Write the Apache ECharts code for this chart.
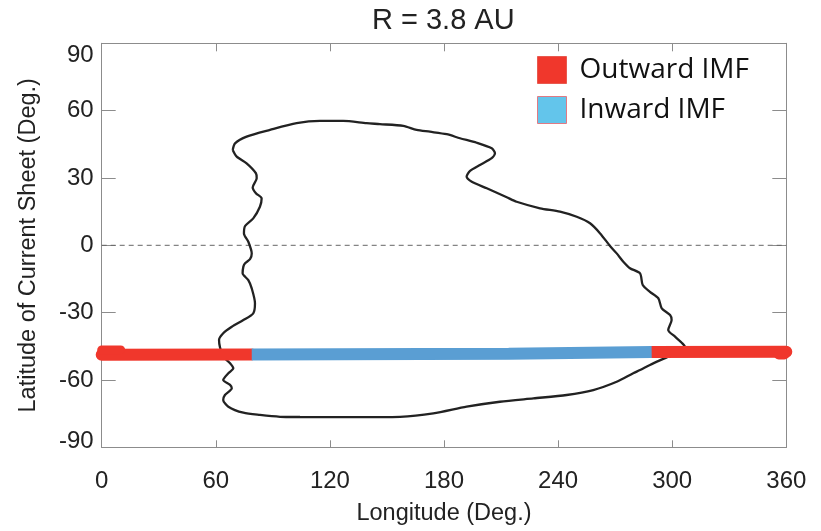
<!DOCTYPE html>
<html>
<head>
<meta charset="utf-8">
<title>R = 3.8 AU</title>
<script src="https://cdn.jsdelivr.net/npm/echarts@6/dist/echarts.min.js"></script>
<style>
  html, body { margin: 0; padding: 0; background: #ffffff; }
  #chart { width: 821px; height: 531px; }
</style>
</head>
<body>
<div id="chart"></div>
<script>
// Tick values for both axes
const lonTicks = [0, 60, 120, 180, 240, 300, 360];
const latTicks = [-90, -60, -30, 0, 30, 60, 90];

// Current-sheet outline at 3.8 AU: [longitude, latitude] in degrees, closed loop
const sheetOutline = [
  [68.9, 42.5], [70.1, 45.4], [76.2, 48.4], [88.5, 51.4], [102.5, 54.4], [114.8, 55.4],
  [127.0, 55.4], [139.3, 54.4], [146.3, 54.0], [158.6, 53.2], [165.6, 51.4], [172.6, 50.6],
  [181.4, 49.5], [188.4, 47.7], [197.2, 45.7], [205.1, 43.2], [206.8, 41.0], [205.1, 38.8],
  [198.9, 35.8], [193.7, 33.2], [191.9, 30.6], [194.6, 28.3], [202.5, 25.4], [213.0, 21.4],
  [218.2, 19.4], [230.5, 16.5], [241.0, 15.0], [249.8, 12.7], [256.8, 9.8], [262.1, 5.3],
  [267.3, -0.3], [270.8, -3.6], [274.3, -7.3], [277.8, -10.2], [283.1, -12.5], [284.5, -17.7],
  [288.3, -20.7], [292.7, -23.6], [294.5, -28.1], [298.9, -31.1], [299.7, -33.3], [297.9, -37.7],
  [301.5, -40.7], [305.0, -43.4], [306.7, -45.2], [304.2, -47.1], [297.9, -49.6], [288.3, -53.3],
  [283.1, -55.6], [279.5, -57.0], [270.8, -60.8], [258.5, -64.5], [244.5, -66.7], [227.0, -68.2],
  [209.4, -69.7], [191.9, -71.9], [174.4, -74.9], [156.9, -76.4], [130.6, -76.6], [104.3, -76.5],
  [93.8, -76.4], [83.2, -75.6], [74.5, -74.6], [66.6, -71.9], [63.9, -68.9], [64.8, -66.7],
  [68.4, -63.7], [67.5, -62.2], [63.9, -60.0], [66.6, -57.0], [69.2, -54.8], [67.5, -52.6],
  [63.9, -49.6], [62.2, -45.4], [61.7, -42.2], [63.9, -39.2], [68.4, -36.3], [74.5, -33.3],
  [79.7, -30.3], [80.6, -25.8], [78.9, -19.2], [77.1, -15.5], [74.1, -12.5], [74.5, -9.5],
  [75.4, -8.0], [78.0, -6.2], [78.9, -3.6], [77.1, 1.6], [74.8, 5.3], [75.4, 8.6],
  [79.7, 12.0], [83.2, 17.2], [84.1, 20.9], [81.1, 23.2], [79.4, 25.8], [81.5, 29.9],
  [81.1, 32.1], [76.2, 36.5], [71.0, 39.5], [68.9, 42.5]
];

// Spacecraft track coloured by IMF polarity: [longitude, latitude]
const outwardWest = [[0, -48.8], [78.9, -48.6]];
const inwardTrack = [[78.9, -48.6], [214, -48.3], [289.2, -47.5]];
const outwardEast = [[289.2, -47.5], [360, -47.4]];
const outwardWestEdge = [[0, -46.6], [10, -46.6]];
const outwardEastEdge = [[356, -48.6], [359, -48.6]];

// Equator reference
const equator = [[0, 0], [360, 0]];

const RED = '#f0372c';
const BLUE = '#5a9ed3';
const AXIS_GRAY = '#8c8c8c';
const TEXT = '#222222';
const FONT = 'Liberation Sans';

const chart = echarts.init(document.getElementById('chart'), null, { renderer: 'canvas' });

const frameAxis = {
  type: 'value',
  axisLine: { show: true, onZero: false, lineStyle: { color: AXIS_GRAY, width: 1 } },
  splitLine: { show: false }
};

chart.setOption({
  animation: false,
  backgroundColor: '#ffffff',
  title: {
    text: 'R = 3.8 AU',
    left: 372,
    top: 6,
    padding: 0,
    textStyle: { fontFamily: FONT, fontSize: 29, fontWeight: 'normal', color: TEXT }
  },
  legend: {
    orient: 'vertical',
    left: 532,
    top: 51,
    icon: 'rect',
    itemWidth: 29,
    itemHeight: 27,
    itemGap: 12,
    selectedMode: false,
    textStyle: { fontFamily: 'Open Sans', fontSize: 28, color: '#111111', padding: [0, 0, 0, 8] },
    data: [
      { name: 'Outward IMF', itemStyle: { color: RED, borderColor: '#e8594f', borderWidth: 1 } },
      { name: 'Inward IMF', itemStyle: { color: '#63c5eb', borderColor: '#e07a84', borderWidth: 1 } }
    ]
  },
  grid: { left: 101.7, right: 34.7, top: 43.3, bottom: 83.7, containLabel: false },
  xAxis: [
    Object.assign({}, frameAxis, {
      position: 'bottom',
      min: lonTicks[0],
      max: lonTicks[lonTicks.length - 1],
      interval: 60,
      name: 'Longitude (Deg.)',
      nameLocation: 'middle',
      nameGap: 54,
      nameTextStyle: { fontFamily: FONT, fontSize: 23.5, color: TEXT },
      axisTick: { show: true, inside: true, length: 7, lineStyle: { color: AXIS_GRAY } },
      axisLabel: { margin: 22, fontFamily: FONT, fontSize: 24, color: TEXT }
    }),
    Object.assign({}, frameAxis, {
      position: 'top',
      min: lonTicks[0],
      max: lonTicks[lonTicks.length - 1],
      interval: 60,
      axisTick: { show: true, inside: true, length: 8, lineStyle: { color: AXIS_GRAY } },
      axisLabel: { show: false }
    })
  ],
  yAxis: [
    Object.assign({}, frameAxis, {
      position: 'left',
      min: latTicks[0],
      max: latTicks[latTicks.length - 1],
      interval: 30,
      name: 'Latitude of Current Sheet (Deg.)',
      nameLocation: 'middle',
      nameGap: 61,
      nameTextStyle: { fontFamily: FONT, fontSize: 23.5, color: TEXT },
      axisTick: { show: true, inside: true, length: 14, lineStyle: { color: AXIS_GRAY } },
      axisLabel: {
        margin: 8,
        fontFamily: FONT,
        fontSize: 24,
        color: TEXT,
        verticalAlignMaxLabel: 'top',
        formatter: function (v) {
          return v === latTicks[0] ? '{low|' + v + '}' : String(v);
        },
        rich: {
          low: { fontFamily: FONT, fontSize: 24, color: TEXT, padding: [0, 0, 11, 0] }
        }
      }
    }),
    Object.assign({}, frameAxis, {
      position: 'right',
      min: latTicks[0],
      max: latTicks[latTicks.length - 1],
      interval: 30,
      axisTick: { show: true, inside: true, length: 14, lineStyle: { color: AXIS_GRAY } },
      axisLabel: { show: false }
    })
  ],
  series: [
    {
      name: 'equator',
      type: 'line',
      data: equator,
      showSymbol: false,
      silent: true,
      lineStyle: { color: '#666666', width: 1, type: [5, 4] },
      z: 1
    },
    {
      name: 'current sheet',
      type: 'line',
      data: sheetOutline,
      showSymbol: false,
      smooth: 0.25,
      silent: true,
      lineStyle: { color: '#222222', width: 2.3 },
      z: 2
    },
    {
      name: 'Outward IMF',
      type: 'line',
      data: outwardWest,
      showSymbol: false,
      silent: true,
      itemStyle: { color: RED },
      lineStyle: { color: RED, width: 12, cap: 'round' },
      z: 3
    },
    {
      name: 'Outward IMF',
      type: 'line',
      data: outwardWestEdge,
      showSymbol: false,
      silent: true,
      itemStyle: { color: RED },
      lineStyle: { color: RED, width: 9, cap: 'round' },
      z: 3
    },
    {
      name: 'Outward IMF',
      type: 'line',
      data: outwardEast,
      showSymbol: false,
      silent: true,
      itemStyle: { color: RED },
      lineStyle: { color: RED, width: 12, cap: 'round' },
      z: 3
    },
    {
      name: 'Outward IMF',
      type: 'line',
      data: outwardEastEdge,
      showSymbol: false,
      silent: true,
      itemStyle: { color: RED },
      lineStyle: { color: RED, width: 10, cap: 'round' },
      z: 3
    },
    {
      name: 'Inward IMF',
      type: 'line',
      data: inwardTrack,
      showSymbol: false,
      silent: true,
      itemStyle: { color: BLUE },
      lineStyle: { color: BLUE, width: 12, cap: 'butt' },
      z: 4
    }
  ]
});
</script>
</body>
</html>
